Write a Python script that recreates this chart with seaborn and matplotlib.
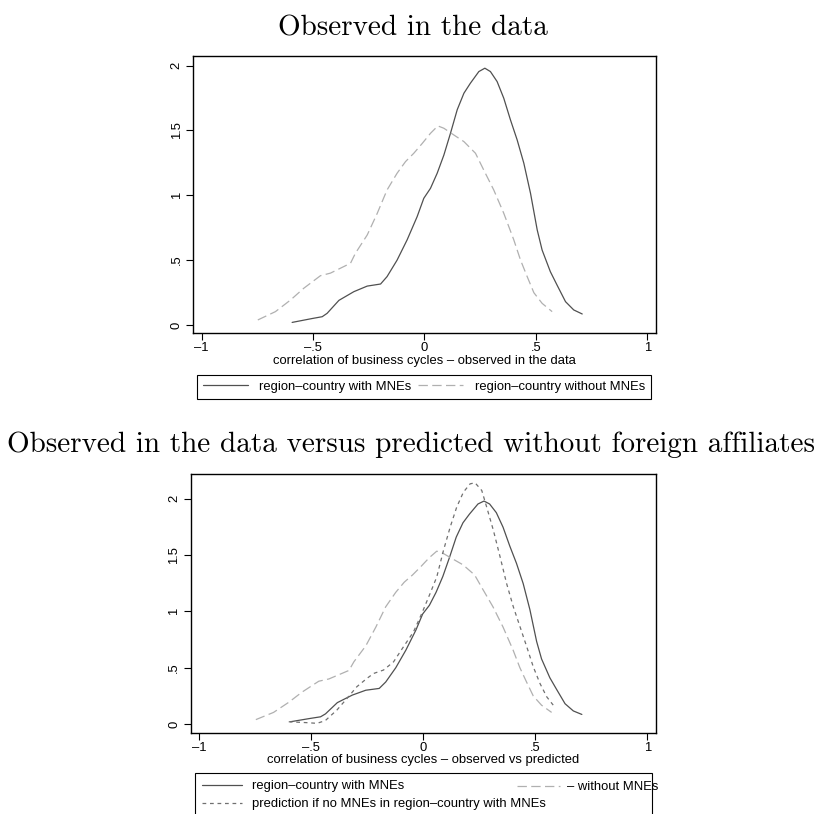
import seaborn as sns
import matplotlib.pyplot as plt
from matplotlib.lines import Line2D

# density of business-cycle correlation, region-country with MNEs
with_x = [-0.594, -0.504, -0.459, -0.437, -0.384, -0.317, -0.257, -0.197, -0.168, -0.123,
          -0.078, -0.033, -0.003, 0.027, 0.057, 0.087, 0.117, 0.147, 0.177, 0.206,
          0.244, 0.271, 0.296, 0.326, 0.356, 0.386, 0.416, 0.446, 0.476, 0.506,
          0.528, 0.565, 0.595, 0.633, 0.670, 0.708]
with_y = [0.02, 0.05, 0.064, 0.09, 0.19, 0.257, 0.30, 0.316, 0.373, 0.50,
          0.656, 0.835, 0.977, 1.054, 1.17, 1.31, 1.48, 1.66, 1.787, 1.864,
          1.954, 1.98, 1.954, 1.877, 1.748, 1.581, 1.427, 1.247, 1.015, 0.733,
          0.578, 0.411, 0.308, 0.18, 0.116, 0.085]

# region-country without MNEs
without_x = [-0.748, -0.669, -0.601, -0.542, -0.467, -0.422, -0.332, -0.31, -0.257, -0.212,
             -0.168, -0.123, -0.085, -0.048, -0.010, 0.027, 0.06, 0.087, 0.132, 0.177,
             0.229, 0.266, 0.311, 0.356, 0.401, 0.431, 0.461, 0.491, 0.528, 0.573]
without_y = [0.039, 0.103, 0.193, 0.283, 0.38, 0.40, 0.476, 0.553, 0.694, 0.861,
             1.041, 1.17, 1.26, 1.324, 1.40, 1.478, 1.535, 1.517, 1.465, 1.414,
             1.324, 1.195, 1.041, 0.861, 0.656, 0.501, 0.373, 0.249, 0.167, 0.103]

# prediction if no MNEs in region-country with MNEs
pred_x = [-0.601, -0.52, -0.475, -0.438, -0.386, -0.341, -0.297, -0.252, -0.222, -0.178,
          -0.133, -0.089, -0.044, -0.007, 0.03, 0.06, 0.09, 0.12, 0.149, 0.179,
          0.209, 0.231, 0.261, 0.283, 0.313, 0.343, 0.372, 0.402, 0.432, 0.462,
          0.491, 0.521, 0.551, 0.580]
pred_y = [0.02, 0.012, 0.006, 0.03, 0.124, 0.227, 0.331, 0.405, 0.449, 0.479,
          0.552, 0.685, 0.818, 0.981, 1.158, 1.306, 1.542, 1.749, 1.926, 2.059,
          2.133, 2.142, 2.074, 1.926, 1.719, 1.483, 1.247, 1.04, 0.863, 0.685,
          0.508, 0.360, 0.242, 0.168]

xticks = [-1, -0.5, 0, 0.5, 1]
xtick_labels = ["\u20131", "\u2013.5", "0", ".5", "1"]
yticks = [0, 0.5, 1, 1.5, 2]
ytick_labels = ["0", ".5", "1", "1.5", "2"]

lab_with = "region\u2013country with MNEs"
lab_without = "region\u2013country without MNEs"
lab_without_short = "\u2013 without MNEs"
lab_pred = "prediction if no MNEs in region\u2013country with MNEs"

sns.set_style("ticks")
plt.rcParams['font.family'] = ['Liberation Sans', 'DejaVu Sans']
plt.rcParams['font.size'] = 9.4
plt.rcParams['text.color'] = 'black'
plt.rcParams['axes.labelcolor'] = 'black'
plt.rcParams['xtick.color'] = 'black'
plt.rcParams['ytick.color'] = 'black'

c_with, c_without, c_pred = "#505050", "#b0b0b0", "#707070"
ls_without = (0, (7.5, 3.5))
ls_pred = (0, (3, 3))
lw = 0.9
fs = 9.4

fig = plt.figure(figsize=(8.17, 8.14), dpi=100)
ax1 = fig.add_axes([0.2362, 0.5909, 0.5667, 0.3403])
ax2 = fig.add_axes([0.2334, 0.0999, 0.5695, 0.3172])


def style_axes(ax, xlabel, ylim):
    ax.set_xlim(-1.039, 1.039)
    ax.set_ylim(*ylim)
    ax.set_xticks(xticks)
    ax.set_xticklabels(xtick_labels)
    ax.set_yticks(yticks)
    ax.set_yticklabels(ytick_labels, rotation=90, va="center")
    ax.tick_params(direction="out", length=5, width=0.8, pad=1.5, labelsize=fs)
    ax.tick_params(axis="y", pad=2.5)
    for s in ax.spines.values():
        s.set_visible(True)
        s.set_linewidth(1.0)
        s.set_color("black")
    ax.set_xlabel(xlabel, labelpad=0.5, fontsize=fs)
    ax.set_ylabel("")


# top panel
sns.lineplot(x=with_x, y=with_y, ax=ax1, color=c_with, linewidth=lw, estimator=None, sort=False)
sns.lineplot(x=without_x, y=without_y, ax=ax1, color=c_without, linewidth=lw,
             linestyle=ls_without, estimator=None, sort=False)
style_axes(ax1, "correlation of business cycles \u2013 observed in the data", (-0.0617, 2.074))

# bottom panel
sns.lineplot(x=with_x, y=with_y, ax=ax2, color=c_with, linewidth=lw, estimator=None, sort=False)
sns.lineplot(x=without_x, y=without_y, ax=ax2, color=c_without, linewidth=lw,
             linestyle=ls_without, estimator=None, sort=False)
sns.lineplot(x=pred_x, y=pred_y, ax=ax2, color=c_pred, linewidth=lw,
             linestyle=ls_pred, estimator=None, sort=False)
style_axes(ax2, "correlation of business cycles \u2013 observed vs predicted", (-0.077, 2.216))

h_with = Line2D([], [], color=c_with, lw=lw)
h_without = Line2D([], [], color=c_without, lw=lw, linestyle=ls_without)
h_pred = Line2D([], [], color=c_pred, lw=lw, linestyle=ls_pred)

leg_kw = dict(frameon=True, fancybox=False, framealpha=1, edgecolor="black",
              borderaxespad=0, fontsize=fs)

leg1 = fig.legend([h_with, h_without], [lab_with, lab_without], ncol=2, mode="expand",
                  loc="upper left", bbox_to_anchor=(0.2408, 0.0, 0.5561, 1 - 375 / 814),
                  borderpad=0.45, columnspacing=0.8, handlelength=3.45,
                  handletextpad=0.9, **leg_kw)
leg1.get_frame().set_linewidth(0.8)

leg2 = fig.legend([h_with, h_pred], [lab_with, lab_pred], ncol=1, mode="expand",
                  loc="upper left", bbox_to_anchor=(0.2387, 0.0, 0.559, 1 - 773 / 814),
                  borderpad=0.55, labelspacing=0.45, handlelength=3.05,
                  handletextpad=0.75, **leg_kw)
leg2.get_frame().set_linewidth(0.8)

leg3 = fig.legend([h_without], [lab_without_short], loc="center left",
                  bbox_to_anchor=(517 / 817, 1 - 787 / 814), frameon=False,
                  borderpad=0, borderaxespad=0, handlelength=3.3, handletextpad=0.55,
                  fontsize=fs)

fig.text(0.505, 1 - 35 / 814, "Observed in the data", family="cmr10", fontsize=21,
         color="black", ha="center", va="baseline")
fig.text(0.503, 1 - 452 / 814, "Observed in the data versus predicted without foreign affiliates",
         family="cmr10", fontsize=21, color="black", ha="center", va="baseline")

fig.savefig("out.png", dpi=100)
